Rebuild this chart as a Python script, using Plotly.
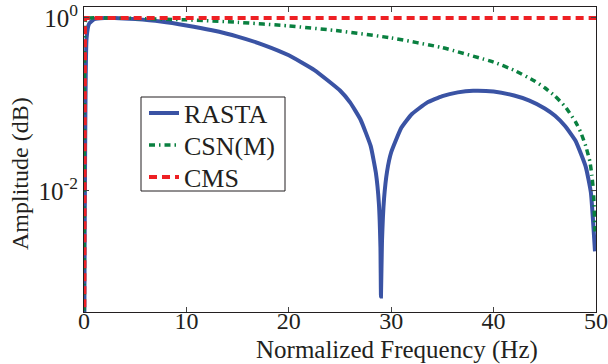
import plotly.graph_objects as go

# ---- data ----
rasta_f = [0, 0.25, 0.5, 1, 2, 3, 5, 7.5, 10, 12.5, 15, 17.5, 20, 22.5, 25, 26, 27, 28,
           28.5, 28.8, 28.95, 29.0, 29.1, 29.3, 29.6, 30, 31, 32, 33.5, 35, 36.5, 38, 40,
           42, 43.5, 45, 46, 47, 48, 49, 49.5, 49.9]
rasta_a = [0.00001, 0.58, 0.86, 0.97, 1.0, 1.0, 0.97, 0.91, 0.82, 0.72, 0.61, 0.49, 0.37,
           0.25, 0.145, 0.105, 0.067, 0.033, 0.0163, 0.0071, 0.0022, 0.0006, 0.0026, 0.0081,
           0.0169, 0.028, 0.054, 0.077, 0.105, 0.125, 0.138, 0.144, 0.141, 0.127, 0.111,
           0.090, 0.074, 0.056, 0.038, 0.019, 0.0096, 0.002]

csn_f = [0, 0.05, 0.1, 0.2, 0.5, 5, 10, 15, 20, 25, 30, 35, 40, 42, 44, 45, 46, 47, 48,
         48.5, 49, 49.4, 49.6, 49.75, 49.9]
csn_a = [0.00001, 0.5, 0.85, 0.97, 1.0, 0.988, 0.951, 0.891, 0.809, 0.707, 0.588, 0.454,
         0.309, 0.249, 0.187, 0.156, 0.125, 0.094, 0.063, 0.048, 0.033, 0.022, 0.015,
         0.010, 0.0034]

cms_f = [0, 0.05, 0.1, 50]
cms_a = [0.00001, 0.9, 1.0, 1.0]

x_ticks = [0, 10, 20, 30, 40, 50]
y_ticks = [0.01, 1]
y_tick_text = ["10<sup>-2</sup>", "10<sup>0</sup>"]

FONT = "Liberation Serif, Times New Roman, serif"
INK = "#231F20"

# plot area in pixels
L, R, T, B = 84, 12, 7, 52
PW, PH = 608 - L - R, 364 - T - B


def px(x):
    return (x - L) / PW


def py(y):
    return (364 - B - y) / PH


fig = go.Figure()
fig.add_trace(go.Scatter(x=rasta_f, y=rasta_a, mode="lines", name="RASTA", legend="legend",
                         line=dict(color="#3A53A4", width=4, shape="spline", smoothing=0.4)))
fig.add_trace(go.Scatter(x=csn_f, y=csn_a, mode="lines", name="CSN(M)", legend="legend2",
                         line=dict(color="#0A8040", width=3.5, dash="6px,4px,1.5px,4px",
                                   shape="spline", smoothing=0.4)))
fig.add_trace(go.Scatter(x=cms_f, y=cms_a, mode="lines", name="CMS", legend="legend3",
                         line=dict(color="#EE2024", width=4, dash="8px,5px")))

leg_common = dict(xanchor="left", yanchor="middle", bgcolor="rgba(0,0,0,0)",
                  borderwidth=0, font=dict(family=FONT, size=26, color=INK),
                  itemwidth=30)

fig.update_layout(
    width=608, height=364,
    margin=dict(l=L, r=R, t=T, b=B, autoexpand=False),
    paper_bgcolor="white", plot_bgcolor="white",
    font=dict(family=FONT, size=24, color=INK),
    showlegend=True,
    legend=dict(x=px(144), y=py(113), **leg_common),
    legend2=dict(x=px(144), y=py(145), **leg_common),
    legend3=dict(x=px(144), y=py(177), **leg_common),
    shapes=[dict(type="rect", xref="paper", yref="paper",
                 x0=px(141), x1=px(285), y0=py(191), y1=py(97),
                 line=dict(color=INK, width=1), fillcolor="white", layer="above")],
    xaxis=dict(range=[0, 50], tickvals=x_ticks, ticks="inside", ticklen=5,
               showline=True, linecolor=INK, linewidth=1, mirror="ticks",
               showgrid=False, zeroline=False, automargin=False,
               ticklabeloverflow="allow", ticklabelstandoff=-13,
               tickfont=dict(family=FONT, size=24, color=INK)),
    yaxis=dict(type="log", range=[-3.4, 0.127], tickvals=y_ticks, ticktext=y_tick_text,
               ticks="inside", ticklen=5,
               showline=True, linecolor=INK, linewidth=1, mirror="ticks",
               showgrid=False, zeroline=False, automargin=False,
               ticklabeloverflow="allow",
               tickfont=dict(family=FONT, size=25, color=INK)),
    annotations=[
        dict(text="Normalized Frequency (Hz)", xref="paper", yref="paper",
             x=px(397), y=py(350), xanchor="center", yanchor="middle", showarrow=False,
             font=dict(family=FONT, size=25, color=INK)),
        dict(text="Amplitude (dB)", xref="paper", yref="paper", textangle=-90,
             x=px(20), y=py(174), xanchor="center", yanchor="middle", showarrow=False,
             font=dict(family=FONT, size=24, color=INK)),
    ],
)

fig.write_html("out.html", config={"displayModeBar": False},
               post_script="document.body.style.margin='0';document.body.style.padding='0';"
                           "document.body.style.overflow='hidden';")
